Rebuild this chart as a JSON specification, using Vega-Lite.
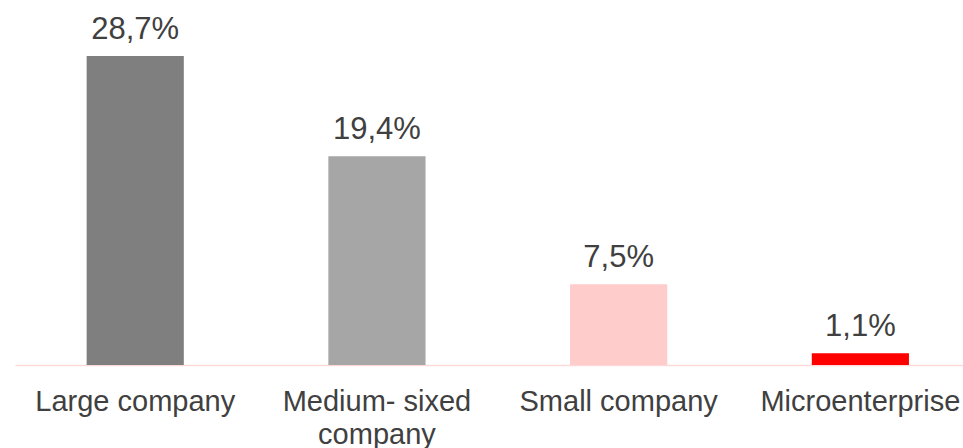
{
  "$schema": "https://vega.github.io/schema/vega-lite/v6.json",
  "autosize": "none",
  "width": 948,
  "height": 323,
  "padding": {"left": 15, "top": 42, "right": 0, "bottom": 83},
  "background": "white",
  "config": {"view": {"stroke": null}, "font": "Liberation Sans"},
  "data": {
    "values": [
      {"category": "Large company", "value": 28.7, "label": "28,7%", "color": "#7F7F7F"},
      {"category": "Medium- sixed|company", "value": 19.4, "label": "19,4%", "color": "#A6A6A6"},
      {"category": "Small company", "value": 7.5, "label": "7,5%", "color": "#FFCCCC"},
      {"category": "Microenterprise", "value": 1.1, "label": "1,1%", "color": "#FF0000"}
    ]
  },
  "encoding": {
    "x": {
      "field": "category",
      "type": "nominal",
      "sort": null,
      "scale": {"paddingInner": 0.598, "paddingOuter": 0.26, "align": 0.57},
      "axis": {
        "title": null,
        "labelAngle": 0,
        "ticks": false,
        "labelPadding": 22,
        "labelFontSize": 29,
        "labelLimit": 0,
        "labelColor": "#404040",
        "labelFont": "Liberation Sans",
        "labelLineHeight": 33,
        "labelExpr": "split(datum.value, '|')",
        "domainColor": "#FFD9D9",
        "domainWidth": 1.5
      }
    },
    "y": {
      "field": "value",
      "type": "quantitative",
      "scale": {"domain": [0, 30]},
      "axis": null
    }
  },
  "layer": [
    {
      "mark": {"type": "bar"},
      "encoding": {"color": {"field": "color", "type": "nominal", "scale": null}}
    },
    {
      "mark": {"type": "text", "dy": -17, "baseline": "alphabetic", "fontSize": 31, "color": "#404040", "font": "Liberation Sans"},
      "encoding": {"text": {"field": "label"}}
    }
  ]
}
